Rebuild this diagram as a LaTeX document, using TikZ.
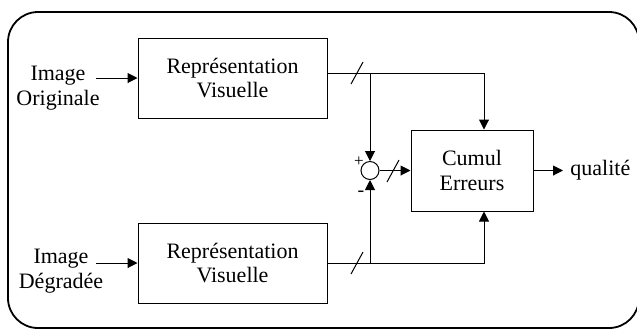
\documentclass[tikz,border=0pt]{standalone}
\usepackage{fontspec}
\setmainfont{Liberation Serif}
\usetikzlibrary{positioning, arrows.meta, calc}

\begin{document}
\begin{tikzpicture}[x=0.5pt, y=-0.5pt, font=\fontsize{11}{12.2}\selectfont,
    bloc/.style={draw, line width=0.5pt, minimum width=94.5pt, minimum height=40pt, align=center, inner sep=0pt},
    fleche/.style={-{Triangle[length=5pt,width=5pt]}, line width=0.5pt},
    trait/.style={line width=0.5pt}]
            \useasboundingbox (0,0) rectangle (637,329);
            \clip (0,0) rectangle (637,329);

            % cadre
            \draw [line width=0.9pt, rounded corners=15pt] (8,12) rectangle (639,328);

            \node [bloc] (repr_orig) at (232.5,78) {Représentation\\Visuelle};
            \node [bloc] (repr_degr) at (232.5,263) {Représentation\\Visuelle};
            \node [bloc, minimum width=61pt, minimum height=40.5pt] (cumul) at (472,170.5) {Cumul\\Erreurs};
            \node [circle, draw, line width=0.5pt, minimum size=9pt, inner sep=0pt] (somme) at (370,170.5) {};

            \node [align=center] (img_orig) at (58,88) {Image\\Originale};
            \node [align=center] (img_degr) at (61,271) {Image\\Dégradée};
            \node [font=\fontsize{8.5}{9}\selectfont] (plus) at (359,162) {+};
            \node [font=\fontsize{10}{10}\selectfont] (moins) at (361,194) {-};

            \coordinate (e_orig) at (96,78);
            \coordinate (e_degr) at (96,263);
            \coordinate (j_haut) at (370,73);
            \coordinate (j_bas) at (370,263);
            \coordinate (c_haut) at (484,73);
            \coordinate (c_bas) at (484,263);
            \coordinate (sortie) at (563,170.5);

            \draw [fleche] (e_orig) -- (repr_orig.west);
            \draw [fleche] (e_degr) -- (repr_degr.west);

            \draw [fleche] (repr_orig.east |- j_haut) -- (c_haut) -- (c_haut |- cumul.north);
            \draw [fleche] (repr_degr.east) -- (c_bas) -- (c_bas |- cumul.south);
            \draw [fleche] (j_haut) -- (somme.north);
            \draw [fleche] (j_bas) -- (somme.south);
            \draw [fleche] (somme.east) -- (cumul.west);
            \draw [fleche] (cumul.east) -- (sortie);
            \node [right, inner sep=3.5pt] (qualite) at (sortie) {qualité};

            % barres obliques
            \foreach \p in {(357,73), (393,171), (357,263)}
                \draw [trait] \p ++(-6,11) -- ++(12,-22);
          \end{tikzpicture}
\end{document}
